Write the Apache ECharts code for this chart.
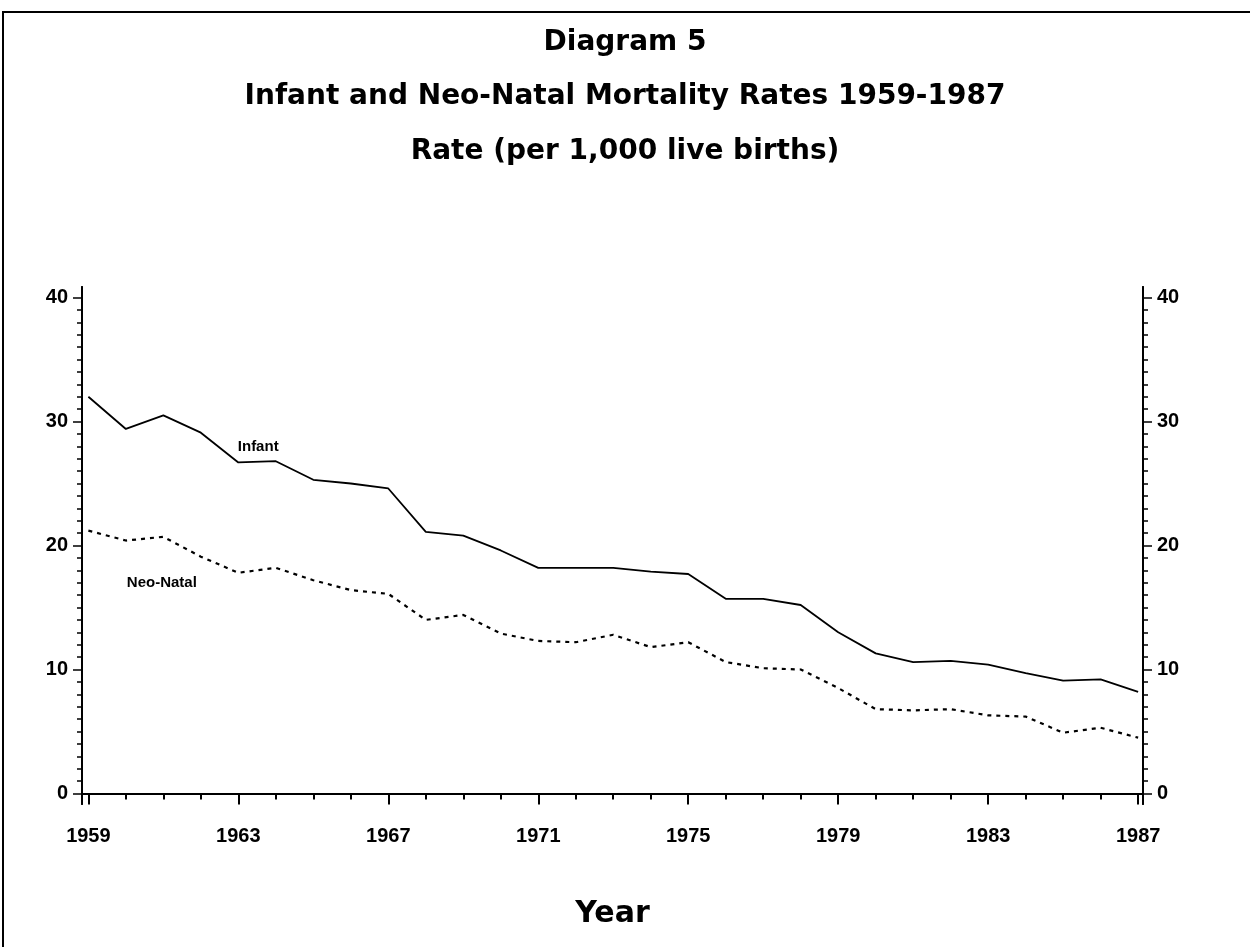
<!DOCTYPE html>
<html>
<head>
<meta charset="utf-8">
<script src="https://cdn.jsdelivr.net/npm/echarts@6/dist/echarts.min.js"></script>
<style>
html,body{margin:0;padding:0;background:#fff;}
#chart{width:1250px;height:947px;}
</style>
</head>
<body>
<div id="chart"></div>
<script>
const years = [1959,1960,1961,1962,1963,1964,1965,1966,1967,1968,1969,1970,1971,1972,1973,1974,1975,1976,1977,1978,1979,1980,1981,1982,1983,1984,1985,1986,1987];
const infant = [32.0,29.4,30.5,29.1,26.7,26.8,25.3,25.0,24.6,21.1,20.8,19.6,18.2,18.2,18.2,17.9,17.7,15.7,15.7,15.2,13.0,11.3,10.6,10.7,10.4,9.7,9.1,9.2,8.2];
const neoNatal = [21.2,20.4,20.7,19.1,17.8,18.2,17.2,16.4,16.1,14.0,14.4,12.9,12.3,12.2,12.8,11.8,12.2,10.6,10.1,10.0,8.5,6.8,6.7,6.8,6.3,6.2,4.9,5.3,4.5];
const labeledYears = [1959,1963,1967,1971,1975,1979,1983,1987];
const yMajor = [0,10,20,30,40];
const yMinor = Array.from({length:41},(_,i)=>i);

const FONT = 'Liberation Sans';
const TFONT = 'DejaVu Sans';
const chart = echarts.init(document.getElementById('chart'), null, {renderer:'canvas'});

const axisLine = {show:true, lineStyle:{color:'#000', width:2}};
const labelStyle = {color:'#000', fontFamily:FONT, fontWeight:'bold', fontSize:20};

function xAxisDef(ticks, len, withLabels, withName){
  return {
    type:'value', min:1958.83, max:1987.13, position:'bottom',
    axisLine: axisLine,
    splitLine:{show:false},
    axisTick:{show:true, customValues:ticks, length:len, lineStyle:{color:'#000', width:2}},
    axisLabel: withLabels ? Object.assign({show:true, customValues:labeledYears, margin:22, formatter:v=>String(v)}, labelStyle) : {show:false},
    name: withName ? 'Year' : '',
    nameLocation:'middle', nameGap:95,
    nameTextStyle:{color:'#000', fontFamily:TFONT, fontWeight:'bold', fontSize:30}
  };
}
function yAxisDef(pos, ticks, len, withLabels){
  return {
    type:'value', min:-0.85, max:40.85, position:pos,
    axisLine: axisLine,
    splitLine:{show:false},
    axisTick:{show:true, customValues:ticks, length:len, lineStyle:{color:'#000', width:1.5}},
    axisLabel: withLabels ? Object.assign({show:true, customValues:yMajor, margin:14, formatter:v=>String(v)}, labelStyle) : {show:false}
  };
}

const titleStyle = {color:'#000', fontFamily:TFONT, fontWeight:'bold', fontSize:28};

chart.setOption({
  animation:false,
  backgroundColor:'#fff',
  title:[
    {text:'Diagram 5', left:'center', top:24, textStyle:titleStyle},
    {text:'Infant and Neo-Natal Mortality Rates 1959-1987', left:'center', top:78, textStyle:titleStyle},
    {text:'Rate (per 1,000 live births)', left:'center', top:133, textStyle:titleStyle}
  ],
  graphic:[
    {type:'polyline', shape:{points:[[3,947],[3,12],[1250,12]]}, style:{fill:null, stroke:'#000', lineWidth:2}, silent:true}
  ],
  grid:{left:82, right:107, top:287, bottom:143, containLabel:false},
  xAxis:[
    xAxisDef(years, 6, false, false),
    xAxisDef(labeledYears, 11, true, true)
  ],
  yAxis:[
    yAxisDef('left', yMinor, 5, false),
    yAxisDef('left', yMajor, 9, true),
    yAxisDef('right', yMinor, 5, false),
    yAxisDef('right', yMajor, 9, true)
  ],
  series:[
    {
      name:'Infant', type:'line', xAxisIndex:0, yAxisIndex:0,
      data: years.map((y,i)=>[y, infant[i]]),
      symbol:'none', lineStyle:{color:'#000', width:1.8, type:'solid'},
      markPoint:{
        symbol:'circle', symbolSize:0,
        data:[{coord:[1963.53, 27.97], value:'Infant'}],
        label:{show:true, position:'inside', formatter:'Infant', color:'#000', fontFamily:FONT, fontWeight:'bold', fontSize:15}
      }
    },
    {
      name:'Neo-Natal', type:'line', xAxisIndex:0, yAxisIndex:0,
      data: years.map((y,i)=>[y, neoNatal[i]]),
      symbol:'none', lineStyle:{color:'#000', width:2.2, type:[4,5]},
      markPoint:{
        symbol:'circle', symbolSize:0,
        data:[{coord:[1960.96, 17.0], value:'Neo-Natal'}],
        label:{show:true, position:'inside', formatter:'Neo-Natal', color:'#000', fontFamily:FONT, fontWeight:'bold', fontSize:15}
      }
    }
  ]
});
</script>
</body>
</html>
